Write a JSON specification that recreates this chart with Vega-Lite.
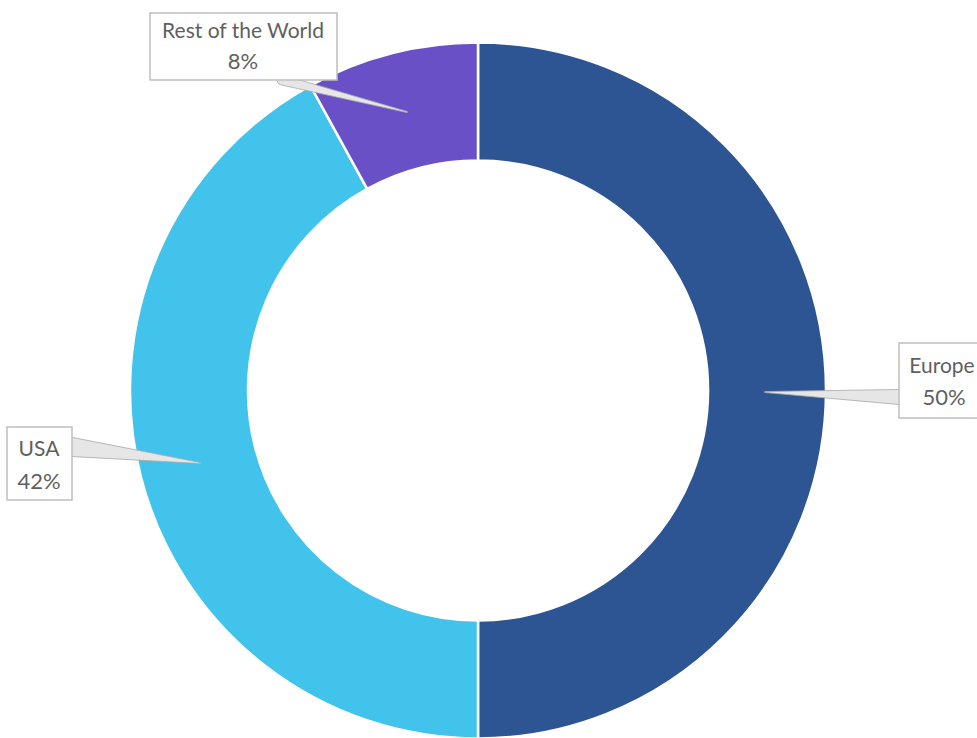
{
  "$schema": "https://vega.github.io/schema/vega-lite/v6.json",
  "width": 956,
  "height": 695,
  "autosize": {"type": "none"},
  "padding": {"left": 0, "top": 43, "right": 21, "bottom": 0},
  "background": "white",
  "config": {"view": {"stroke": null}},
  "datasets": {
    "shares": [
      {"region": "Europe", "value": 50, "order": 1},
      {"region": "USA", "value": 42, "order": 2},
      {"region": "Rest of the World", "value": 8, "order": 3}
    ],
    "boxes": [
      {"region": "Rest of the World", "x1": -328, "x2": -141, "y1": 377.5, "y2": 310.5},
      {"region": "Europe", "x1": 421, "x2": 508, "y1": 47.5, "y2": -27.5},
      {"region": "USA", "x1": -471, "x2": -406, "y1": -36.5, "y2": -109.5}
    ],
    "leaders": [
      {"region": "Rest of the World", "step": 1, "x": -196, "y": 310.5, "w": 10},
      {"region": "Rest of the World", "step": 2, "x": -71, "y": 278.5, "w": 1},
      {"region": "Europe", "step": 1, "x": 421, "y": -6.5, "w": 15},
      {"region": "Europe", "step": 2, "x": 287, "y": -1.5, "w": 1},
      {"region": "USA", "step": 1, "x": -406, "y": -56.5, "w": 19},
      {"region": "USA", "step": 2, "x": -278, "y": -72.5, "w": 1}
    ],
    "names": [
      {"text": "Rest of the World", "x": -235, "y": 358.5},
      {"text": "Europe", "x": 464, "y": 23.5},
      {"text": "USA", "x": -439, "y": -59.5}
    ],
    "pcts": [
      {"text": "8%", "x": -235, "y": 328.5},
      {"text": "50%", "x": 466, "y": -7.5},
      {"text": "42%", "x": -439, "y": -91.5}
    ]
  },
  "layer": [
    {
      "data": {"name": "shares"},
      "mark": {"type": "arc", "outerRadius": 348, "innerRadius": 230, "stroke": "white", "strokeWidth": 2.5},
      "encoding": {
        "theta": {"field": "value", "type": "quantitative", "stack": true},
        "order": {"field": "order", "type": "quantitative"},
        "color": {
          "field": "region",
          "type": "nominal",
          "scale": {"domain": ["Europe", "USA", "Rest of the World"], "range": ["#2D5493", "#42C3EB", "#6A50C7"]},
          "legend": null
        }
      }
    },
    {
      "data": {"name": "leaders"},
      "mark": {"type": "trail", "fill": "#e6e6e6", "stroke": "#a8a8a8", "strokeWidth": 0.8},
      "encoding": {
        "x": {"field": "x", "type": "quantitative", "scale": {"domain": [-478, 478]}, "axis": null},
        "y": {"field": "y", "type": "quantitative", "scale": {"domain": [-347.5, 347.5]}, "axis": null},
        "detail": {"field": "region"},
        "order": {"field": "step"},
        "size": {"field": "w", "type": "quantitative", "scale": null, "legend": null}
      }
    },
    {
      "data": {"name": "boxes"},
      "mark": {"type": "rect", "fill": "white", "stroke": "#bfbfbf", "strokeWidth": 1.5},
      "encoding": {
        "x": {"field": "x1", "type": "quantitative", "scale": {"domain": [-478, 478]}, "axis": null},
        "x2": {"field": "x2"},
        "y": {"field": "y1", "type": "quantitative", "scale": {"domain": [-347.5, 347.5]}, "axis": null},
        "y2": {"field": "y2"}
      }
    },
    {
      "data": {"name": "names"},
      "mark": {"type": "text", "font": "Lato", "fontSize": 21, "color": "#5f5f5f", "align": "center", "baseline": "middle"},
      "encoding": {
        "x": {"field": "x", "type": "quantitative", "scale": {"domain": [-478, 478]}, "axis": null},
        "y": {"field": "y", "type": "quantitative", "scale": {"domain": [-347.5, 347.5]}, "axis": null},
        "text": {"field": "text"}
      }
    },
    {
      "data": {"name": "pcts"},
      "mark": {"type": "text", "font": "Lato", "fontSize": 22, "color": "#5f5f5f", "align": "center", "baseline": "middle"},
      "encoding": {
        "x": {"field": "x", "type": "quantitative", "scale": {"domain": [-478, 478]}, "axis": null},
        "y": {"field": "y", "type": "quantitative", "scale": {"domain": [-347.5, 347.5]}, "axis": null},
        "text": {"field": "text"}
      }
    }
  ]
}
